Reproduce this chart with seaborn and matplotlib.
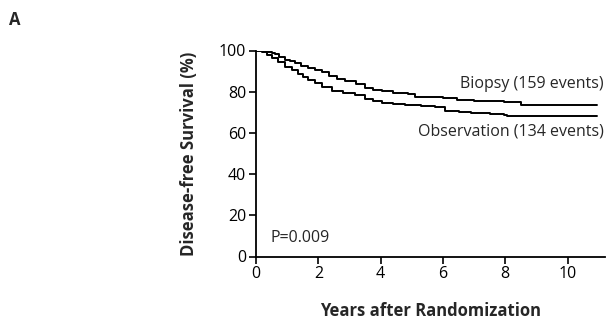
import matplotlib
matplotlib.use("Agg")
import matplotlib.pyplot as plt
import seaborn as sns
import pandas as pd

# Kaplan-Meier curves (years, disease-free survival %)
biopsy_years = [0, 0.4, 0.5, 0.61, 0.75, 0.93, 1.1, 1.25, 1.45, 1.68, 1.9, 2.11, 2.33, 2.6, 2.86, 3.2, 3.5, 3.75, 4.04, 4.4, 4.89, 5.11, 5.76, 6.0, 6.45, 7.0, 7.5, 7.95, 8.5, 10.95]
biopsy_surv  = [100, 99.4, 98.8, 98.2, 96.8, 95.5, 94.7, 93.9, 92.6, 91.4, 90.4, 89.5, 87.4, 86.2, 85.0, 83.5, 82.0, 81.0, 80.1, 79.5, 78.8, 77.4, 77.2, 76.9, 76.0, 75.7, 75.4, 75.2, 73.6, 73.6]

obs_years = [0, 0.18, 0.35, 0.5, 0.7, 0.93, 1.15, 1.36, 1.5, 1.68, 1.9, 2.11, 2.43, 2.8, 3.18, 3.5, 3.75, 4.04, 4.4, 4.79, 5.3, 5.76, 6.08, 6.5, 6.9, 7.5, 7.95, 8.06, 10.95]
obs_surv  = [100, 99.5, 98.0, 96.3, 94.2, 92.2, 90.3, 88.5, 87.2, 85.8, 84.0, 82.5, 80.4, 79.4, 78.5, 76.4, 75.4, 74.5, 74.0, 73.6, 73.0, 72.5, 70.4, 70.2, 69.9, 69.2, 68.8, 68.0, 68.0]

group_labels = ["Biopsy (159 events)", "Observation (134 events)"]
x_ticks = [0, 2, 4, 6, 8, 10]
y_ticks = [0, 20, 40, 60, 80, 100]
x_label = "Years after Randomization"
y_label = "Disease-free Survival (%)"
p_text = "P=0.009"
panel = "A"

df = pd.concat([
    pd.DataFrame({"years": biopsy_years, "surv": biopsy_surv, "group": "Biopsy"}),
    pd.DataFrame({"years": obs_years, "surv": obs_surv, "group": "Observation"}),
])

sns.set_theme(style="ticks")
plt.rcParams["font.family"] = ["Open Sans", "DejaVu Sans"]

fig = plt.figure(figsize=(6.09, 3.22), dpi=100)
ax = fig.add_axes([256 / 609, 65.5 / 322, 349 / 609, 206 / 322])

for g in ["Biopsy", "Observation"]:
    sub = df[df["group"] == g]
    sns.lineplot(data=sub, x="years", y="surv", ax=ax, color="black",
                 linewidth=1.4, drawstyle="steps-post", estimator=None, sort=False)

ax.set_xlim(0, 11.2)
ax.set_ylim(0, 100)
ax.set_xticks(x_ticks)
ax.set_yticks(y_ticks)
ax.tick_params(axis="both", labelsize=11.5, length=5, width=1.2, colors="black", pad=2)
for s in ["top", "right"]:
    ax.spines[s].set_visible(False)
for s in ["left", "bottom"]:
    ax.spines[s].set_linewidth(1.3)
    ax.spines[s].set_color("black")
ax.set_xlabel(x_label, fontsize=12, fontweight="bold", labelpad=14)
ax.set_ylabel(y_label, fontsize=12, fontweight="bold", labelpad=15)

ax.text(11.15, 83.5, group_labels[0], ha="right", va="center", fontsize=11.5)
ax.text(11.15, 60.5, group_labels[1], ha="right", va="center", fontsize=11.5)
ax.text(0.45, 9, p_text, ha="left", va="center", fontsize=11.5)
fig.text(15 / 609, 1 - 20 / 322, panel, ha="center", va="center", fontsize=12, fontweight="bold")

fig.savefig("out.png", dpi=100)
